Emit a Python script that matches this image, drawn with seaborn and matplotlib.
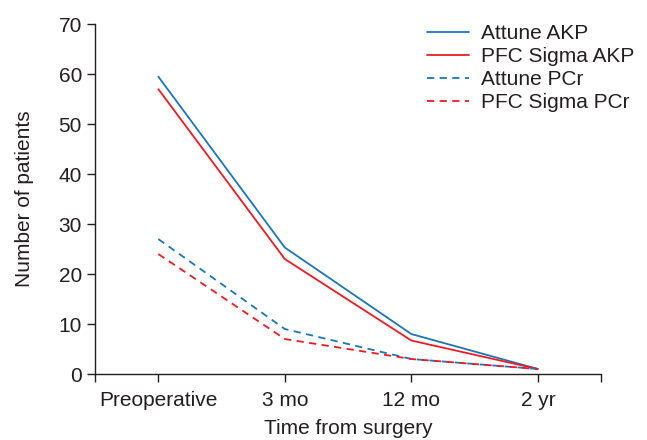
import numpy as np
import pandas as pd
import matplotlib
matplotlib.use("Agg")
import matplotlib.pyplot as plt
import seaborn as sns

# datos
tiempos = ["Preoperative", "3 mo", "12 mo", "2 yr"]
attune_akp = [59.5, 25.3, 8, 1]
pfc_akp = [57, 23, 6.7, 1]
attune_pcr = [27, 9, 3, 1]
pfc_pcr = [24, 7, 3, 1]

series = ["Attune AKP", "PFC Sigma AKP", "Attune PCr", "PFC Sigma PCr"]
valores = [attune_akp, pfc_akp, attune_pcr, pfc_pcr]
colores = {"Attune AKP": "#1b75bc", "PFC Sigma AKP": "#ed1c24",
           "Attune PCr": "#1b75bc", "PFC Sigma PCr": "#ed1c24"}
estilos = {"Attune AKP": "", "PFC Sigma AKP": "",
           "Attune PCr": (4, 3), "PFC Sigma PCr": (4, 3)}

filas = []
for s, v in zip(series, valores):
    for i, t in enumerate(tiempos):
        filas.append({"x": i, "y": v[i], "serie": s})
df = pd.DataFrame(filas)

sns.set_style("ticks")
plt.rcParams["font.family"] = ["Liberation Sans", "DejaVu Sans"]
gris = "#231f20"

fig = plt.figure(figsize=(6.47, 4.40), dpi=100)
ax = fig.add_axes([0.147, 0.15, 0.782, 0.795])

sns.lineplot(data=df, x="x", y="y", hue="serie", style="serie",
             hue_order=series, style_order=series,
             palette=colores, dashes=estilos, linewidth=1.3, ax=ax)

ax.set_xlim(-0.5, 3.5)
ax.set_ylim(0, 70)
ax.set_xticks(range(len(tiempos)))
ax.set_xticklabels(tiempos)
ax.set_xticks([-0.5, 3.5], minor=True)
ax.set_yticks(np.arange(0, 71, 10))
ax.tick_params(axis="both", which="both", labelsize=15, length=5.5, width=1.0,
               color=gris, labelcolor=gris, pad=4)
ax.tick_params(axis="x", pad=6.5)
ax.set_xlabel("Time from surgery", fontsize=15, color=gris, labelpad=7)
ax.set_ylabel("Number of patients", fontsize=15, color=gris, labelpad=18)
for lado in ["top", "right"]:
    ax.spines[lado].set_visible(False)
for lado in ["left", "bottom"]:
    ax.spines[lado].set_color(gris)
    ax.spines[lado].set_linewidth(1.0)

leg = ax.legend(loc="upper left", bbox_to_anchor=(427 / 647, 1 - 24 / 440),
                bbox_transform=fig.transFigure, frameon=False,
                fontsize=15, handlelength=2.0, handletextpad=0.6,
                labelspacing=0.2, borderpad=0, borderaxespad=0)
for t in leg.get_texts():
    t.set_color(gris)

fig.savefig("out.png", dpi=100)
